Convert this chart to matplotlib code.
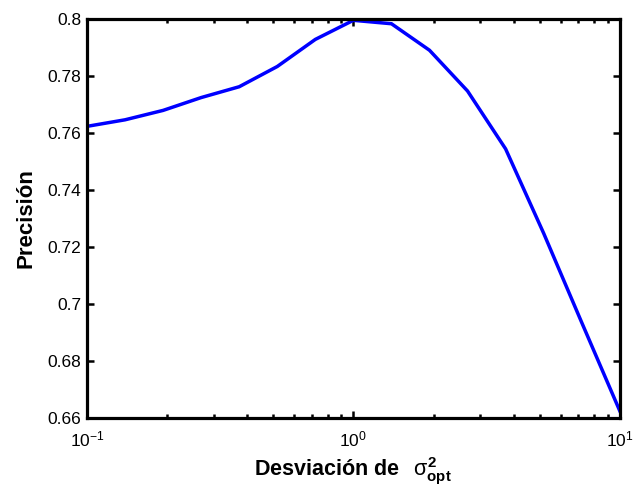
import numpy as np
import matplotlib
matplotlib.use("Agg")
import matplotlib.pyplot as plt
from matplotlib.ticker import FixedLocator, FuncFormatter, LogLocator

plt.rcParams['font.family'] = ['Liberation Sans', 'DejaVu Sans']
plt.rcParams['mathtext.fontset'] = 'custom'
plt.rcParams['mathtext.rm'] = 'Liberation Sans'
plt.rcParams['mathtext.it'] = 'Liberation Sans'
plt.rcParams['mathtext.bf'] = 'Liberation Sans:bold'

# Data
sigma_dev = np.logspace(-1, 1, 15)
precision = [0.7623, 0.7646, 0.7679, 0.7724, 0.7762, 0.7833, 0.7928, 0.7995,
             0.7983, 0.7890, 0.7747, 0.7544, 0.7248, 0.6935, 0.6625]
y_ticks = [0.66, 0.68, 0.70, 0.72, 0.74, 0.76, 0.78, 0.80]

fig = plt.figure(figsize=(6.35, 4.97), dpi=100)
ax = fig.add_axes([0.137, 0.159, 0.839, 0.803])

ax.plot(sigma_dev, precision, color='#0000ff', linewidth=2.5, solid_joinstyle='miter')

ax.set_xscale('log')
ax.set_xlim(0.1, 10)
ax.set_ylim(0.66, 0.80)
ax.yaxis.set_major_locator(FixedLocator(y_ticks))
ax.yaxis.set_major_formatter(FuncFormatter(lambda v, p: '%g' % round(v, 4)))
ax.xaxis.set_major_locator(LogLocator(base=10, numticks=10))
ax.xaxis.set_minor_locator(LogLocator(base=10, subs=np.arange(2, 10), numticks=10))

for s in ax.spines.values():
    s.set_linewidth(2.3)

ax.tick_params(which='both', direction='in', top=True, right=True, width=1.8,
               labelsize=12.5, colors='black')
ax.tick_params(which='major', length=5)
ax.tick_params(which='minor', length=3)
ax.tick_params(axis='x', which='major', pad=8)
ax.tick_params(axis='y', which='major', pad=4)

ax.set_xlabel(r'Desviación de $\ \,\sigma^{\mathbf{2}}_{\mathbf{opt}}$', fontsize=15.5,
              fontweight='bold', labelpad=5)
ax.set_ylabel('Precisión', fontsize=16, fontweight='bold', labelpad=8)

fig.savefig('out.png', dpi=100)
